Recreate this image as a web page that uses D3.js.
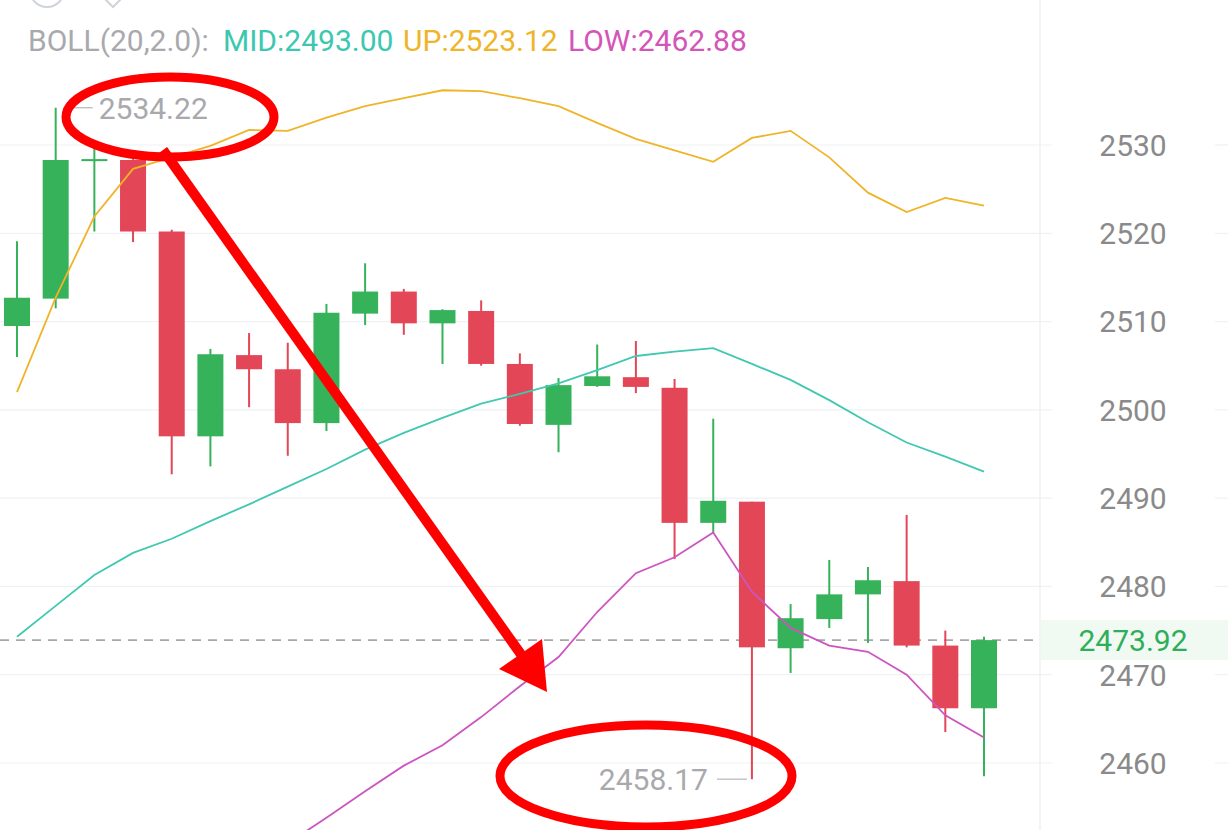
<!DOCTYPE html>
<html><head><meta charset="utf-8">
<script src="https://cdn.jsdelivr.net/npm/d3@7"></script>
<style>html,body{margin:0;padding:0;background:#fff;}svg{display:block;}</style>
</head><body>
<svg id="chart" width="1228" height="830"></svg>
<script>
// ---- data ----
const openV  = [2509.5,2512.6,2528.2,2528.3,2520.2,2497.0,2506.2,2504.6,2498.5,2510.9,2513.4,2509.8,2511.2,2505.2,2498.3,2502.7,2503.7,2502.5,2487.2,2489.6,2473.0,2476.3,2479.1,2480.6,2473.3,2466.2];
const highV  = [2519.1,2534.22,2529.7,2528.4,2520.4,2506.9,2508.7,2507.6,2512.0,2516.6,2513.7,2511.4,2512.4,2506.4,2503.6,2507.4,2507.8,2503.5,2499.0,2489.6,2478.0,2483.0,2482.2,2488.1,2475.0,2474.3];
const lowV   = [2506.0,2511.5,2520.2,2519.0,2492.7,2493.6,2500.3,2494.8,2497.6,2509.6,2508.5,2505.2,2505.0,2498.2,2495.2,2502.6,2501.9,2483.1,2486.1,2458.17,2470.2,2475.3,2473.6,2473.1,2463.5,2458.5];
const closeV = [2512.7,2528.3,2528.4,2520.2,2497.0,2506.3,2504.6,2498.5,2511.0,2513.4,2509.8,2511.3,2505.2,2498.4,2502.8,2503.8,2502.6,2487.2,2489.7,2473.1,2476.4,2479.1,2480.7,2473.3,2466.2,2473.92];
const bollMid = [2474.3,2477.8,2481.3,2483.8,2485.4,2487.4,2489.3,2491.3,2493.3,2495.5,2497.4,2499.1,2500.7,2501.8,2503.0,2504.5,2506.1,2506.6,2507.0,2505.2,2503.4,2501.1,2498.6,2496.3,2494.7,2493.0];
const bollUp  = [2502.0,2512.7,2521.9,2527.3,2528.6,2529.9,2531.7,2531.6,2533.1,2534.4,2535.3,2536.2,2536.1,2535.3,2534.4,2532.5,2530.7,2529.4,2528.1,2530.8,2531.6,2528.6,2524.6,2522.4,2524.0,2523.12];
const bollLow = [2446.5,2442.9,2440.8,2440.3,2442.1,2444.9,2447.0,2450.9,2453.8,2456.8,2459.7,2462.0,2465.2,2468.7,2472.0,2477.1,2481.5,2483.3,2486.1,2479.4,2475.3,2473.3,2472.6,2470.0,2465.4,2462.88];
const yTicks = [2460,2470,2480,2490,2500,2510,2520,2530];
const lastPrice = 2473.92;
const maxLabel = "2534.22", minLabel = "2458.17";
const legendParts = [
  {text:"BOLL(20,2.0):", color:"#a9a9ad"},
  {text:"MID:2493.00", color:"#3cc8b0"},
  {text:"UP:2523.12", color:"#f0b429"},
  {text:"LOW:2462.88", color:"#d455b8"}
];

// ---- setup ----
const W = 1228, H = 830, plotRight = 1040;
const svg = d3.select("#chart");
svg.append("rect").attr("width",W).attr("height",H).attr("fill","#fff");
const idx = d3.range(openV.length);
const x = d3.scalePoint().domain(idx).range([17, 984]);
const y = d3.scaleLinear().domain([2460, 2530]).range([763, 145]);
const UPC = "#35b25a", DNC = "#e34657";
const FONT = "Roboto, 'Noto Sans', sans-serif";

// gridlines
const grid = svg.append("g");
yTicks.forEach(t => {
  grid.append("line").attr("x1",0).attr("x2",1052).attr("y1",y(t)).attr("y2",y(t)).attr("stroke","#eff1f5").attr("stroke-width",1.2);
  grid.append("line").attr("x1",1215).attr("x2",W).attr("y1",y(t)).attr("y2",y(t)).attr("stroke","#eff1f5").attr("stroke-width",1.2);
});
svg.append("line").attr("x1",plotRight).attr("x2",plotRight).attr("y1",0).attr("y2",H).attr("stroke","#eef0f3").attr("stroke-width",1.5);

// top icons (partially cut)
svg.append("circle").attr("cx",47).attr("cy",-10).attr("r",17).attr("fill","none").attr("stroke","#cfd3da").attr("stroke-width",2);
svg.append("path").attr("d","M96,-10 L113,7 L130,-10").attr("fill","none").attr("stroke","#cfd3da").attr("stroke-width",2);

// legend
const leg = svg.append("g").attr("font-family",FONT).attr("font-size",30);
const legX = [28, 223, 403, 568];
legendParts.forEach((p,i)=>{
  leg.append("text").attr("x",legX[i]).attr("y",51).attr("fill",p.color).text(p.text);
});

// clip
svg.append("clipPath").attr("id","plot").append("rect").attr("x",0).attr("y",0).attr("width",plotRight).attr("height",H);
const plot = svg.append("g").attr("clip-path","url(#plot)");

// last price dashed line
plot.append("line").attr("x1",0).attr("x2",1034).attr("y1",y(lastPrice)).attr("y2",y(lastPrice))
  .attr("stroke","#a8a8a8").attr("stroke-width",1.6).attr("stroke-dasharray","9,7");

// candles
const bodyW = 26;
const candles = plot.append("g");
idx.forEach(i=>{
  const up = closeV[i] >= openV[i];
  const col = up ? UPC : DNC;
  candles.append("line").attr("x1",x(i)).attr("x2",x(i)).attr("y1",y(highV[i])).attr("y2",y(lowV[i])).attr("stroke",col).attr("stroke-width",2);
  const top = y(Math.max(openV[i],closeV[i])), bot = y(Math.min(openV[i],closeV[i]));
  candles.append("rect").attr("x",x(i)-bodyW/2).attr("y",top).attr("width",bodyW).attr("height",Math.max(bot-top,2)).attr("fill",col);
});

// bollinger lines
const line = arr => d3.line().x((d,i)=>x(i)).y(d=>y(d))(arr);
plot.append("path").attr("d",line(bollUp)).attr("fill","none").attr("stroke","#f0b429").attr("stroke-width",1.8);
plot.append("path").attr("d",line(bollMid)).attr("fill","none").attr("stroke","#40c8b1").attr("stroke-width",1.8);
plot.append("path").attr("d",line(bollLow)).attr("fill","none").attr("stroke","#cc55c0").attr("stroke-width",1.8);

// max/min labels
const iMax = highV.indexOf(d3.max(highV)), iMin = lowV.indexOf(d3.min(lowV));
plot.append("line").attr("x1",x(iMax)+8).attr("x2",x(iMax)+37).attr("y1",y(highV[iMax])).attr("y2",y(highV[iMax])).attr("stroke","#b5b5b5").attr("stroke-width",1.2);
plot.append("text").attr("x",x(iMax)+43).attr("y",y(highV[iMax])).attr("dy","0.36em").attr("font-family",FONT).attr("font-size",30).attr("fill","#a9a9ad").text(maxLabel);
plot.append("line").attr("x1",x(iMin)-35).attr("x2",x(iMin)-5).attr("y1",y(lowV[iMin])).attr("y2",y(lowV[iMin])).attr("stroke","#b5b5b5").attr("stroke-width",1.2);
plot.append("text").attr("x",x(iMin)-44).attr("y",y(lowV[iMin])).attr("dy","0.36em").attr("text-anchor","end").attr("font-family",FONT).attr("font-size",30).attr("fill","#a9a9ad").text(minLabel);

// y axis labels
const ax = svg.append("g").attr("font-family",FONT).attr("font-size",30).attr("fill","#8a8a8a");
yTicks.forEach(t=>{
  ax.append("text").attr("x",1133).attr("y",y(t)).attr("dy","0.36em").attr("text-anchor","middle").text(t);
});
// last price tag
svg.append("rect").attr("x",plotRight+1).attr("y",y(lastPrice)-20).attr("width",W-plotRight).attr("height",40).attr("fill","#eef8f1").attr("opacity",0.9);
svg.append("text").attr("x",1133).attr("y",y(lastPrice)).attr("dy","0.36em").attr("text-anchor","middle").attr("font-family",FONT).attr("font-size",30).attr("fill","#2fae5a").text(lastPrice.toFixed(2));

// red annotations
const ann = svg.append("g").attr("fill","none").attr("stroke","#ff0000");
ann.append("ellipse").attr("cx",170).attr("cy",117).attr("rx",104).attr("ry",40).attr("stroke-width",9);
ann.append("ellipse").attr("cx",646).attr("cy",776).attr("rx",146).attr("ry",51).attr("stroke-width",9);
ann.append("line").attr("x1",163).attr("y1",150).attr("x2",525).attr("y2",660).attr("stroke-width",10);
svg.append("path").attr("d","M547,692 L499,669 L542,639 Z").attr("fill","#ff0000");
</script>
</body></html>
